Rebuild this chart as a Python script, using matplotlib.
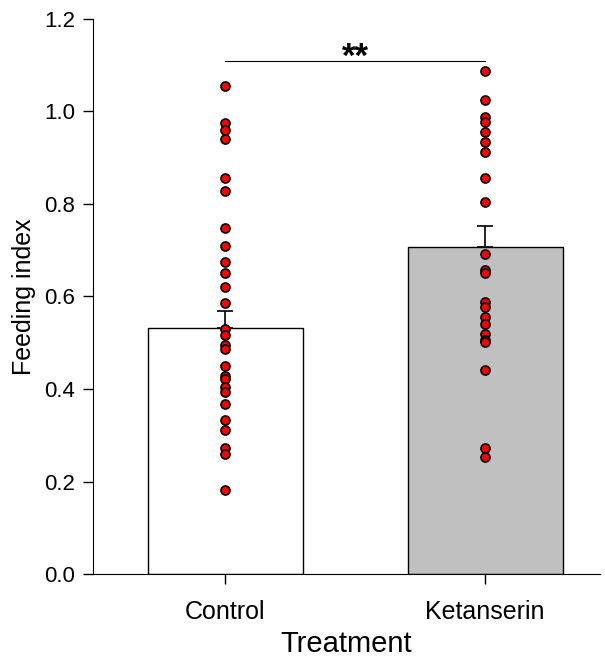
import matplotlib
matplotlib.use("Agg")
import matplotlib.pyplot as plt
import numpy as np

plt.rcParams['font.family'] = ['Liberation Sans', 'DejaVu Sans']

groups = ["Control", "Ketanserin"]
bar_means = [0.531, 0.708]
bar_sems = [0.038, 0.044]
bar_colors = ["white", "#c0c0c0"]

control_pts = [1.056, 0.976, 0.959, 0.941, 0.856, 0.829, 0.749, 0.709, 0.675,
               0.650, 0.621, 0.585, 0.529, 0.517, 0.495, 0.486, 0.449, 0.428,
               0.421, 0.404, 0.394, 0.368, 0.333, 0.311, 0.272, 0.259, 0.181]
ketanserin_pts = [1.087, 1.025, 0.989, 0.978, 0.956, 0.933, 0.912, 0.856, 0.804,
                  0.691, 0.657, 0.650, 0.589, 0.578, 0.555, 0.541, 0.519, 0.507,
                  0.502, 0.441, 0.273, 0.254]
sig_y = 1.109
sig_label = "**"

fig = plt.figure(figsize=(6.05, 6.61), dpi=100)
ax = fig.add_axes([0.1537, 0.1316, 0.838, 0.8397])

x = np.arange(len(groups))
ax.bar(x, bar_means, width=0.596, color=bar_colors, edgecolor="black", linewidth=1.0, zorder=1)
ax.errorbar(x, bar_means, yerr=[[0, 0], bar_sems], fmt="none", ecolor="black",
            elinewidth=1.2, capsize=6, capthick=1.2, zorder=2)

for xi, pts in zip(x, [control_pts, ketanserin_pts]):
    ax.plot([xi] * len(pts), pts, "o", color="red", markeredgecolor="black",
            markeredgewidth=1.2, markersize=6.5, zorder=3, clip_on=False)

ax.plot([x[0], x[1]], [sig_y, sig_y], color="black", lw=0.8)
ax.text((x[0] + x[1]) / 2, sig_y - 0.027, sig_label, ha="center", va="bottom",
        fontsize=25, fontweight="bold")

ax.set_xlim(-0.508, 1.442)
ax.set_ylim(0, 1.2)
ax.set_yticks(np.arange(0, 1.21, 0.2))
ax.set_yticklabels([f"{v:.1f}" for v in np.arange(0, 1.21, 0.2)])
ax.set_xticks(x)
ax.set_xticklabels(groups)
ax.spines["top"].set_visible(False)
ax.spines["right"].set_visible(False)
ax.tick_params(direction="out", length=7, width=1)
ax.tick_params(axis="y", labelsize=16, pad=6)
ax.tick_params(axis="x", labelsize=18, pad=12)
ax.set_xlabel("Treatment", fontsize=21, labelpad=4)
ax.set_ylabel("Feeding index", fontsize=18, labelpad=6)

fig.savefig("out.png", dpi=100)
